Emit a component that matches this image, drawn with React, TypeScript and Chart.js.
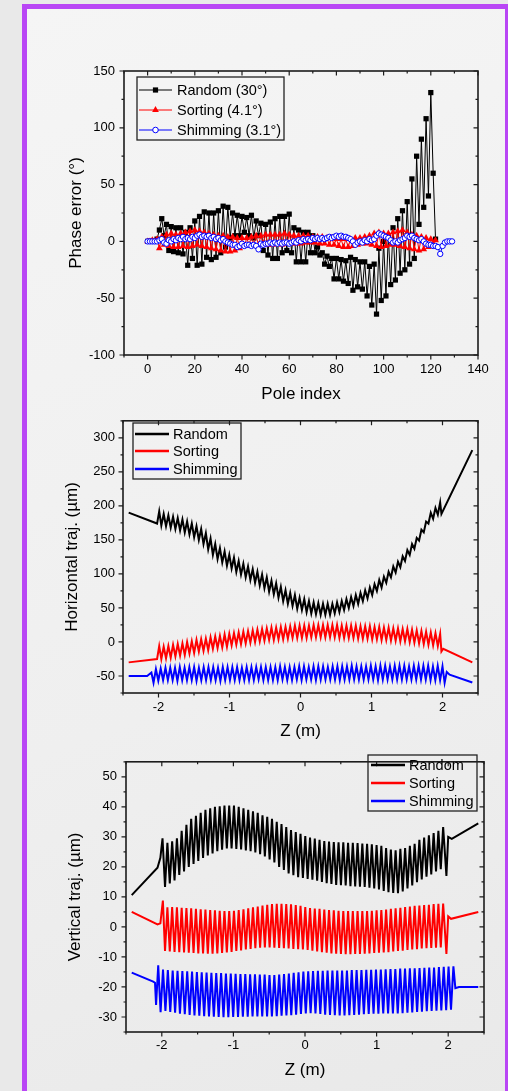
import React, { useEffect, useRef } from 'react';
import { Chart, registerables } from 'chart.js';
Chart.register(...registerables);

const FONT = "'Liberation Sans', Arial, Helvetica, sans-serif";

// ---------------- Panel 1: phase error vs pole index ----------------
// Random: even poles 0,2,...,122
const RANDOM_EVEN = [0, 0, 2, 20, 15, 13, 12, 12, 8, 12, 18, 22, 26, 25, 25, 27, 31, 30, 25, 23, 22, 21, 23, 18, 16, 15, 17, 20, 22, 22, 24, 12, 10, 8, 8, 5, -5, -10, -13, -15, -15, -16, -17, -14, -16, -18, -18, -22, -20, -6, 0, 5, 12, 20, 27, 35, 55, 75, 90, 108, 131, 2];
// Random: odd poles 1,3,...,121
const RANDOM_ODD = [0, 0, 10, 5, -8, -9, -10, -11, -21, -15, -21, -20, -14, -16, -14, -10, -5, 3, 5, 5, 8, 5, 3, 5, -8, -12, -15, -15, -10, -8, -10, -18, -18, -18, -10, -10, -12, -20, -22, -33, -33, -35, -37, -43, -40, -42, -48, -56, -64, -52, -48, -38, -34, -28, -25, -20, -15, 15, 30, 40, 60];
// Sorting: poles 0..122
const SORTING = [0, 0, 1, 0, 2, -6, 4, -3, 6, -4, 7, -5, 6, -5, 7, -4, 8, -5, 9, -4, 10, -3, 9, -4, 8, -5, 7, -6, 6, -7, 5, -8, 5, -9, 4, -9, 4, -8, 3, -6, 3, -4, 3, -3, 4, -3, 5, -3, 5, -2, 6, -3, 6, -3, 6, -2, 6, -3, 7, -2, 6, -2, 5, -2, 5, -2, 5, -1, 5, -1, 4, -1, 4, -2, 4, -2, 3, -3, 3, -3, 2, -4, 2, -5, 2, -5, 2, -4, 3, -3, 3, -2, 4, -2, 5, -3, 7, -4, 8, -5, 7, -4, 7, -3, 8, -3, 9, -4, 10, -5, 8, -6, 6, -7, 5, -8, 4, -7, 3, -5, 2, -2, 1];
// Shimming: poles 0..129
const SHIMMING = [0, 0, 0, 0, 0, 1, 2, -1, -2, 1, 0, 2, 1, 3, 2, 4, 2, 3, 2, 4, 3, 5, 6, 4, 5, 4, 5, 3, 4, 2, 3, 1, 2, 0, -1, -2, -3, -3, -5, -4, -2, -4, -3, -3, -4, -3, -4, -7, -2, -3, -2, -2, -1, -2, -1, -2, -1, -2, -1, -1, -2, -1, 0, -1, 1, 0, 2, 1, 2, 1, 3, 2, 3, 2, 3, 2, 3, 4, 3, 4, 5, 4, 5, 4, 4, 3, 2, 0, -3, -1, 0, -1, 1, 0, 2, 1, 2, 5, 7, 6, 5, 4, 3, 1, -1, 0, -1, 1, 2, 3, 5, 4, 5, 3, 2, 1, 2, 0, -2, -3, -3, -4, -4, -5, -11, -4, -1, 0, 0, 0];
const PHASE_X_MAJOR = [0, 20, 40, 60, 80, 100, 120, 140];
const PHASE_X_MINOR = [-10, 10, 30, 50, 70, 90, 110, 130];
const PHASE_Y_MAJOR = [-100, -50, 0, 50, 100, 150];
const PHASE_Y_MINOR = [-75, -25, 25, 75, 125];

// ---------------- Panel 2: horizontal trajectory ----------------
const H_RANDOM_IN: [number, number][] = [[-2.42, 190], [-2.02, 174], [-1.99, 192]];
const H_RANDOM_TROUGHS = [171, 170, 168, 166, 164, 161, 158, 154, 150, 144, 136, 128, 122, 117, 112, 108, 103, 99, 95, 91, 87, 83, 79, 74, 70, 65, 60, 56, 53, 49, 47, 44, 42, 41, 40, 40, 40, 42, 44, 47, 50, 53, 56, 60, 64, 69, 75, 80, 87, 95, 102, 110, 119, 128, 137, 149, 161, 174, 181, 187];
const H_RANDOM_PEAKS = [188, 186, 184, 182, 180, 177, 174, 170, 166, 160, 152, 144, 138, 133, 128, 124, 119, 115, 111, 107, 103, 99, 95, 90, 86, 81, 76, 72, 69, 65, 63, 60, 58, 57, 56, 56, 56, 58, 60, 63, 66, 69, 72, 76, 80, 85, 91, 96, 103, 111, 118, 126, 135, 144, 153, 165, 177, 190, 197, 205];
const H_RANDOM_OUT: [number, number][] = [[1.985, 188], [2.42, 282]];

const H_SORTING_IN: [number, number][] = [[-2.42, -30], [-2.02, -25], [-1.99, -6]];
const H_SORTING_TROUGHS = [-25, -24, -23, -21, -20, -19, -17, -16, -14, -13, -12, -10, -9, -8, -7, -5, -4, -3, -2, -1, 0, 1, 2, 3, 3, 4, 4, 5, 6, 6, 6, 6, 7, 7, 7, 7, 7, 7, 6, 6, 6, 6, 5, 5, 5, 4, 4, 3, 3, 2, 2, 1, 1, 0, -1, -2, -3, -4, -5, -6];
const H_SORTING_PEAKS = [-7, -6, -4, -3, -2, 0, 1, 3, 4, 5, 7, 8, 9, 11, 12, 13, 14, 15, 16, 17, 18, 19, 20, 21, 21, 22, 22, 23, 24, 24, 24, 24, 25, 25, 25, 25, 25, 25, 24, 24, 24, 24, 23, 23, 23, 22, 22, 21, 21, 20, 20, 19, 19, 18, 17, 16, 15, 14, 13, 12];
const H_SORTING_OUT: [number, number][] = [[1.985, -14], [2.01, -10], [2.42, -30]];

const H_SHIMMING_IN: [number, number][] = [[-2.42, -50], [-2.16, -50], [-2.1, -45]];
const H_SHIMMING_TROUGHS = [-60, -57, -56, -56, -56, -57, -56, -56, -56, -57, -56, -56, -56, -56, -57, -56, -56, -56, -56, -56, -56, -56, -55, -56, -56, -56, -56, -55, -56, -56, -55, -56, -55, -55, -56, -55, -55, -55, -55, -56, -55, -55, -55, -55, -55, -55, -55, -56, -55, -55, -55, -55, -55, -55, -55, -55, -55, -55, -56, -56, -56];
const H_SHIMMING_PEAKS = [-40, -39, -38, -38, -38, -37, -38, -37, -37, -38, -37, -37, -37, -38, -37, -37, -37, -37, -38, -37, -37, -37, -37, -37, -37, -37, -36, -37, -37, -37, -36, -36, -37, -36, -36, -36, -37, -36, -36, -36, -36, -35, -36, -36, -36, -35, -36, -35, -35, -36, -35, -35, -35, -36, -35, -35, -35, -35, -36, -35, -36];
const H_SHIMMING_OUT: [number, number][] = [[2.03, -60], [2.06, -44], [2.1, -48], [2.42, -59.5]];

const Z_MAJOR = [-2, -1, 0, 1, 2];
const Z_MINOR = [-2.5, -1.5, -0.5, 0.5, 1.5, 2.5];
const H_Y_MAJOR = [-50, 0, 50, 100, 150, 200, 250, 300];
const H_Y_MINOR = [-75, -25, 25, 75, 125, 175, 225, 275, 325];

// ---------------- Panel 3: vertical trajectory ----------------
const V_RANDOM_IN: [number, number][] = [[-2.42, 10.6], [-2.06, 19.7], [-2.02, 23], [-1.99, 29.5]];
const V_RANDOM_TROUGHS = [13.3, 14.5, 15.5, 17.3, 18.5, 20, 21, 22, 23, 23.8, 24.5, 25.2, 25.7, 26.1, 26.1, 26, 25.8, 25.5, 25.2, 24.8, 24.2, 23.5, 22.5, 21.5, 20, 19, 17.8, 17.2, 16.6, 16.3, 16, 15.7, 15.4, 15, 14.6, 14.3, 14, 13.9, 13.8, 13.6, 13.5, 13.4, 13.3, 13.1, 12.8, 12.5, 12, 11.6, 11.3, 11.2, 11.8, 12.8, 13.8, 14.9, 15.8, 16.7, 17.5, 18.5, 19.2];
const V_RANDOM_PEAKS = [28, 28.5, 29.5, 32, 34, 36, 37, 38, 39, 39.5, 40, 40.2, 40.4, 40.4, 40.4, 40, 39.5, 39, 38.5, 38, 37.2, 36.7, 36, 35, 34.3, 33.3, 32.3, 31.6, 31, 30.3, 29.8, 29.4, 29, 28.6, 28.4, 28.3, 28.2, 28.2, 28, 28, 27.9, 27.8, 27.7, 27.5, 27.3, 27, 26.3, 25.8, 25.5, 26, 26.3, 27, 27.7, 29, 29.8, 30.5, 31.3, 32, 33.3];
const V_RANDOM_OUT: [number, number][] = [[1.975, 17], [2.0, 30], [2.05, 29.3], [2.42, 34.5]];

const V_SORTING_IN: [number, number][] = [[-2.42, 5], [-2.06, 0.8], [-2.02, 1.2], [-1.985, 8.8]];
const V_SORTING_TROUGHS = [-8, -8.2, -8.3, -8.4, -8.5, -8.6, -8.7, -8.8, -8.8, -8.9, -8.9, -8.8, -8.7, -8.5, -8.3, -8.0, -7.8, -7.5, -7.3, -7.1, -6.9, -6.8, -6.8, -6.9, -7.0, -7.1, -7.2, -7.3, -7.4, -7.5, -7.7, -7.9, -8.2, -8.4, -8.6, -8.8, -8.9, -9.0, -9.1, -9.1, -9.0, -9.0, -8.9, -8.8, -8.7, -8.6, -8.5, -8.4, -8.2, -8.0, -7.9, -7.7, -7.5, -7.4, -7.2, -7.1, -7.0, -6.9, -6.8];
const V_SORTING_PEAKS = [6.5, 6.6, 6.5, 6.4, 6.3, 6.2, 6.0, 5.9, 5.8, 5.6, 5.5, 5.4, 5.3, 5.3, 5.4, 5.6, 5.9, 6.2, 6.5, 6.8, 7.1, 7.4, 7.6, 7.7, 7.7, 7.6, 7.5, 7.3, 7.0, 6.6, 6.3, 6.1, 6.0, 5.8, 5.6, 5.5, 5.4, 5.3, 5.3, 5.3, 5.3, 5.3, 5.3, 5.4, 5.5, 5.6, 5.8, 6.0, 6.2, 6.4, 6.6, 6.8, 7.0, 7.1, 7.3, 7.4, 7.6, 7.7, 7.8];
const V_SORTING_OUT: [number, number][] = [[1.975, -9], [2.0, 3.5], [2.04, 2.7], [2.42, 5]];

const V_SHIMMING_IN: [number, number][] = [[-2.42, -15.2], [-2.12, -18.2], [-2.095, -18.6], [-2.08, -26], [-2.05, -12.8]];
const V_SHIMMING_TROUGHS = [-28.4, -28.0, -28.3, -28.6, -28.9, -29.1, -29.3, -29.5, -29.6, -29.7, -29.8, -29.9, -30.0, -30.1, -30.1, -30.0, -30.0, -29.9, -29.9, -29.8, -29.8, -29.8, -29.8, -29.8, -29.7, -29.6, -29.5, -29.4, -29.2, -29.0, -28.8, -28.7, -28.8, -29.0, -29.2, -29.3, -29.4, -29.5, -29.5, -29.4, -29.3, -29.2, -29.1, -29.0, -28.9, -28.9, -28.8, -28.8, -28.8, -28.8, -28.7, -28.6, -28.5, -28.3, -28.2, -28.1, -28.0, -27.9, -27.8, -27.7, -27.6];
const V_SHIMMING_PEAKS = [-14.2, -14.4, -14.5, -14.6, -14.7, -14.8, -14.9, -15.0, -15.1, -15.2, -15.3, -15.4, -15.4, -15.5, -15.5, -15.6, -15.7, -15.7, -15.8, -15.8, -15.9, -15.9, -16.0, -16.0, -15.9, -15.7, -15.5, -15.3, -15.1, -14.9, -14.8, -14.7, -14.6, -14.6, -14.5, -14.5, -14.5, -14.5, -14.5, -14.4, -14.4, -14.4, -14.3, -14.3, -14.2, -14.2, -14.1, -14.0, -14.0, -13.9, -13.9, -13.8, -13.8, -13.7, -13.6, -13.5, -13.5, -13.4, -13.3, -13.2, -13.1];
const V_SHIMMING_OUT: [number, number][] = [[2.1, -20.4], [2.15, -20], [2.42, -20]];

const V_Y_MAJOR = [-30, -20, -10, 0, 10, 20, 30, 40, 50];
const V_Y_MINOR = [-35, -25, -15, -5, 5, 15, 25, 35, 45, 55];

// undulator period grids: [first trough z, period length] (m)
const H_GRID_MAIN: [number, number] = [-1.96, 0.066];
const H_GRID_SHIM: [number, number] = [-2.07, 0.06727];
const V_GRID_MAIN: [number, number] = [-1.955, 0.0664];
const V_GRID_SHIM: [number, number] = [-2.017, 0.0676];

const BLACK = '#000000';
const RED = '#ff0000';
const BLUE = '#0000ff';

type Pt = { x: number; y: number };

function trajPoints(entry: [number, number][], grid: [number, number], troughs: number[], peaks: number[], exit: [number, number][]): Pt[] {
  const pts: Pt[] = entry.map(([x, y]) => ({ x, y }));
  const [z0, p] = grid;
  for (let k = 0; k < troughs.length; k++) {
    pts.push({ x: z0 + k * p, y: troughs[k] });
    pts.push({ x: z0 + k * p + p / 2, y: peaks[k] });
  }
  exit.forEach(([x, y]) => pts.push({ x, y }));
  return pts;
}

function poleSeries(values: number[]): Pt[] {
  return values.map((y, i) => ({ x: i, y }));
}

function randomPoles(): number[] {
  const out: number[] = [];
  for (let i = 0; i < RANDOM_EVEN.length + RANDOM_ODD.length; i++) {
    out.push(i % 2 === 0 ? RANDOM_EVEN[i / 2] : RANDOM_ODD[(i - 1) / 2]);
  }
  return out;
}

type Marker = 'rect' | 'triangle' | 'circle' | null;
type LegendCfg = {
  box: [number, number, number, number];
  rows: number[];
  line: [number, number];
  textX: number;
  items: { label: string; color: string; marker: Marker; lw: number }[];
};

type PanelCfg = {
  top: number;
  height: number;
  padding: { left: number; right: number; top: number; bottom: number };
  yWidth: number;
  xHeight: number;
  xMin: number; xMax: number; yMin: number; yMax: number;
  xMajor: number[]; xMinor: number[]; yMajor: number[]; yMinor: number[];
  xTitle: string; yTitle: string;
  xTickPad: number; yTickPad: number;
  xTitleBottom: number; yTitleTop: number;
  datasets: any[];
  legend: LegendCfg;
};

function drawMarker(ctx: CanvasRenderingContext2D, m: Marker, x: number, y: number, color: string) {
  if (!m) return;
  ctx.save();
  if (m === 'rect') {
    ctx.fillStyle = color;
    ctx.fillRect(x - 2.6, y - 2.6, 5.2, 5.2);
  } else if (m === 'triangle') {
    ctx.fillStyle = color;
    ctx.beginPath();
    ctx.moveTo(x, y - 3.9);
    ctx.lineTo(x + 3.4, y + 1.95);
    ctx.lineTo(x - 3.4, y + 1.95);
    ctx.closePath();
    ctx.fill();
  } else {
    ctx.fillStyle = '#ffffff';
    ctx.strokeStyle = color;
    ctx.lineWidth = 1;
    ctx.beginPath();
    ctx.arc(x, y, 2.8, 0, Math.PI * 2);
    ctx.fill();
    ctx.stroke();
  }
  ctx.restore();
}

function makeDecor(cfg: PanelCfg) {
  return {
    id: 'decor',
    afterDraw(chart: any) {
      const { ctx, chartArea: a } = chart;
      const xs = chart.scales.x;
      const ys = chart.scales.y;
      ctx.save();
      ctx.strokeStyle = '#1c1c1c';
      ctx.lineWidth = 1.2;
      ctx.beginPath();
      const seg = (x1: number, y1: number, x2: number, y2: number) => {
        ctx.moveTo(x1, y1);
        ctx.lineTo(x2, y2);
      };
      const xt = (vals: number[], len: number) =>
        vals.forEach((v) => {
          const px = xs.getPixelForValue(v);
          seg(px, a.bottom, px, a.bottom + len);
          seg(px, a.top, px, a.top + len);
        });
      const yt = (vals: number[], len: number) =>
        vals.forEach((v) => {
          const py = ys.getPixelForValue(v);
          seg(a.left - len, py, a.left, py);
          seg(a.right - len, py, a.right, py);
        });
      xt(cfg.xMajor, 4.5);
      xt(cfg.xMinor, 2.5);
      yt(cfg.yMajor, 4.5);
      yt(cfg.yMinor, 2.5);
      ctx.stroke();
      ctx.lineWidth = 1.6;
      ctx.strokeRect(a.left, a.top, a.right - a.left, a.bottom - a.top);

      // legend box
      const L = cfg.legend;
      ctx.lineWidth = 1.3;
      ctx.strokeStyle = '#222';
      ctx.strokeRect(L.box[0], L.box[1], L.box[2] - L.box[0], L.box[3] - L.box[1]);
      ctx.font = `14.5px ${FONT}`;
      ctx.textBaseline = 'middle';
      ctx.textAlign = 'left';
      L.items.forEach((it, i) => {
        const y = L.rows[i];
        ctx.strokeStyle = it.color;
        ctx.lineWidth = it.lw;
        ctx.beginPath();
        ctx.moveTo(L.line[0], y);
        ctx.lineTo(L.line[1], y);
        ctx.stroke();
        drawMarker(ctx, it.marker, (L.line[0] + L.line[1]) / 2, y, it.color);
        ctx.fillStyle = '#000';
        ctx.fillText(it.label, L.textX, y + 0.5);
      });
      ctx.restore();
    },
  };
}

function Panel({ cfg }: { cfg: PanelCfg }) {
  const ref = useRef<HTMLCanvasElement>(null);
  useEffect(() => {
    const tickFont = { size: 13, family: FONT };
    const titleFont = { size: 17, family: FONT };
    const chart = new Chart(ref.current as HTMLCanvasElement, {
      type: 'line',
      data: { datasets: cfg.datasets },
      options: {
        animation: false,
        responsive: false,
        devicePixelRatio: 1,
        events: [],
        layout: { padding: cfg.padding },
        plugins: { legend: { display: false }, tooltip: { enabled: false } },
        scales: {
          x: {
            type: 'linear',
            min: cfg.xMin,
            max: cfg.xMax,
            afterBuildTicks: (s: any) => {
              s.ticks = cfg.xMajor.map((v) => ({ value: v }));
            },
            afterFit: (s: any) => {
              s.height = cfg.xHeight;
            },
            grid: { display: false, drawTicks: false },
            border: { display: false },
            ticks: {
              padding: cfg.xTickPad,
              font: tickFont,
              color: '#000',
              maxRotation: 0,
              autoSkip: false,
              callback: (v: any) => String(v),
            },
            title: {
              display: true,
              text: cfg.xTitle,
              font: titleFont,
              color: '#000',
              padding: { top: 0, bottom: cfg.xTitleBottom },
            },
          },
          y: {
            type: 'linear',
            min: cfg.yMin,
            max: cfg.yMax,
            afterBuildTicks: (s: any) => {
              s.ticks = cfg.yMajor.map((v) => ({ value: v }));
            },
            afterFit: (s: any) => {
              s.width = cfg.yWidth;
            },
            grid: { display: false, drawTicks: false },
            border: { display: false },
            ticks: {
              padding: cfg.yTickPad,
              font: tickFont,
              color: '#000',
              autoSkip: false,
              callback: (v: any) => String(v),
            },
            title: {
              display: true,
              text: cfg.yTitle,
              font: titleFont,
              color: '#000',
              padding: { top: cfg.yTitleTop, bottom: 0 },
            },
          },
        },
      } as any,
      plugins: [makeDecor(cfg)],
    });
    return () => chart.destroy();
  }, []);
  return (
    <canvas
      ref={ref}
      width={508}
      height={cfg.height}
      style={{ position: 'absolute', left: 0, top: cfg.top, width: 508, height: cfg.height }}
    />
  );
}

const trajStyle = (color: string, order: number) => ({
  borderColor: color,
  backgroundColor: color,
  borderWidth: 2,
  pointRadius: 0,
  tension: 0,
  fill: false,
  order,
});

const PHASE_CFG: PanelCfg = {
  top: 0,
  height: 405,
  padding: { left: 0, right: 30, top: 71, bottom: 0 },
  yWidth: 124,
  xHeight: 50,
  xMin: -10, xMax: 140, yMin: -100, yMax: 150,
  xMajor: PHASE_X_MAJOR, xMinor: PHASE_X_MINOR, yMajor: PHASE_Y_MAJOR, yMinor: PHASE_Y_MINOR,
  xTitle: 'Pole index',
  yTitle: 'Phase error (°)',
  xTickPad: 7, yTickPad: 9, xTitleBottom: 0, yTitleTop: 66,
  datasets: [
    {
      data: poleSeries(randomPoles()),
      borderColor: BLACK, backgroundColor: BLACK, borderWidth: 1,
      pointStyle: 'rect', pointRadius: 3.7, pointBorderWidth: 0, pointBackgroundColor: BLACK,
      tension: 0, order: 3,
    },
    {
      data: poleSeries(SORTING),
      borderColor: RED, backgroundColor: RED, borderWidth: 1,
      pointStyle: 'triangle', pointRadius: 3.9, pointBorderWidth: 0, pointBackgroundColor: RED,
      tension: 0, order: 2,
    },
    {
      data: poleSeries(SHIMMING),
      borderColor: BLUE, backgroundColor: '#ffffff', borderWidth: 1,
      pointStyle: 'circle', pointRadius: 2.7, pointBorderWidth: 1, pointBorderColor: BLUE, pointBackgroundColor: '#ffffff',
      tension: 0, order: 1,
    },
  ],
  legend: {
    box: [137, 77, 284, 140],
    rows: [90, 110, 130],
    line: [139, 172],
    textX: 177,
    items: [
      { label: 'Random (30°)', color: BLACK, marker: 'rect', lw: 1 },
      { label: 'Sorting (4.1°)', color: RED, marker: 'triangle', lw: 1 },
      { label: 'Shimming (3.1°)', color: BLUE, marker: 'circle', lw: 1 },
    ],
  },
};

const HORIZ_CFG: PanelCfg = {
  top: 405,
  height: 340,
  padding: { left: 0, right: 30, top: 7, bottom: 0 },
  yWidth: 123,
  xHeight: 52,
  xMin: -2.5, xMax: 2.5, yMin: -75, yMax: 325,
  xMajor: Z_MAJOR, xMinor: Z_MINOR, yMajor: H_Y_MAJOR, yMinor: H_Y_MINOR,
  xTitle: 'Z (m)',
  yTitle: 'Horizontal traj. (µm)',
  xTickPad: 7, yTickPad: 8, xTitleBottom: 3, yTitleTop: 62,
  datasets: [
    { data: trajPoints(H_RANDOM_IN, H_GRID_MAIN, H_RANDOM_TROUGHS, H_RANDOM_PEAKS, H_RANDOM_OUT), ...trajStyle(BLACK, 3) },
    { data: trajPoints(H_SORTING_IN, H_GRID_MAIN, H_SORTING_TROUGHS, H_SORTING_PEAKS, H_SORTING_OUT), ...trajStyle(RED, 2) },
    { data: trajPoints(H_SHIMMING_IN, H_GRID_SHIM, H_SHIMMING_TROUGHS, H_SHIMMING_PEAKS, H_SHIMMING_OUT), ...trajStyle(BLUE, 1) },
  ],
  legend: {
    box: [133, 18, 241, 74],
    rows: [29, 46, 64],
    line: [135, 169],
    textX: 173,
    items: [
      { label: 'Random', color: BLACK, marker: null, lw: 2.5 },
      { label: 'Sorting', color: RED, marker: null, lw: 2.5 },
      { label: 'Shimming', color: BLUE, marker: null, lw: 2.5 },
    ],
  },
};

const VERT_CFG: PanelCfg = {
  top: 745,
  height: 346,
  padding: { left: 0, right: 24, top: 5, bottom: 0 },
  yWidth: 126,
  xHeight: 59,
  xMin: -2.5, xMax: 2.5, yMin: -35, yMax: 55,
  xMajor: Z_MAJOR, xMinor: Z_MINOR, yMajor: V_Y_MAJOR, yMinor: V_Y_MINOR,
  xTitle: 'Z (m)',
  yTitle: 'Vertical traj. (µm)',
  xTickPad: 6, yTickPad: 9, xTitleBottom: 10, yTitleTop: 65,
  datasets: [
    { data: trajPoints(V_RANDOM_IN, V_GRID_MAIN, V_RANDOM_TROUGHS, V_RANDOM_PEAKS, V_RANDOM_OUT), ...trajStyle(BLACK, 3) },
    { data: trajPoints(V_SORTING_IN, V_GRID_MAIN, V_SORTING_TROUGHS, V_SORTING_PEAKS, V_SORTING_OUT), ...trajStyle(RED, 2) },
    { data: trajPoints(V_SHIMMING_IN, V_GRID_SHIM, V_SHIMMING_TROUGHS, V_SHIMMING_PEAKS, V_SHIMMING_OUT), ...trajStyle(BLUE, 1) },
  ],
  legend: {
    box: [368, 10, 477, 66],
    rows: [20, 38, 56],
    line: [371, 405],
    textX: 409,
    items: [
      { label: 'Random', color: BLACK, marker: null, lw: 2.5 },
      { label: 'Sorting', color: RED, marker: null, lw: 2.5 },
      { label: 'Shimming', color: BLUE, marker: null, lw: 2.5 },
    ],
  },
};

export default function App() {
  return (
    <div
      style={{
        position: 'absolute',
        left: 0,
        top: 0,
        width: 508,
        height: 1091,
        overflow: 'hidden',
        background: '#e9e9e9',
        fontFamily: FONT,
      }}
    >
      <div
        style={{
          position: 'absolute',
          left: 22,
          top: 4,
          width: 488,
          height: 1200,
          boxSizing: 'border-box',
          border: '5px solid #b946f5',
          background: 'linear-gradient(160deg, #f5f5f5 0%, #efefef 55%, #e8e8e8 100%)',
        }}
      />
      <Panel cfg={PHASE_CFG} />
      <Panel cfg={HORIZ_CFG} />
      <Panel cfg={VERT_CFG} />
    </div>
  );
}
